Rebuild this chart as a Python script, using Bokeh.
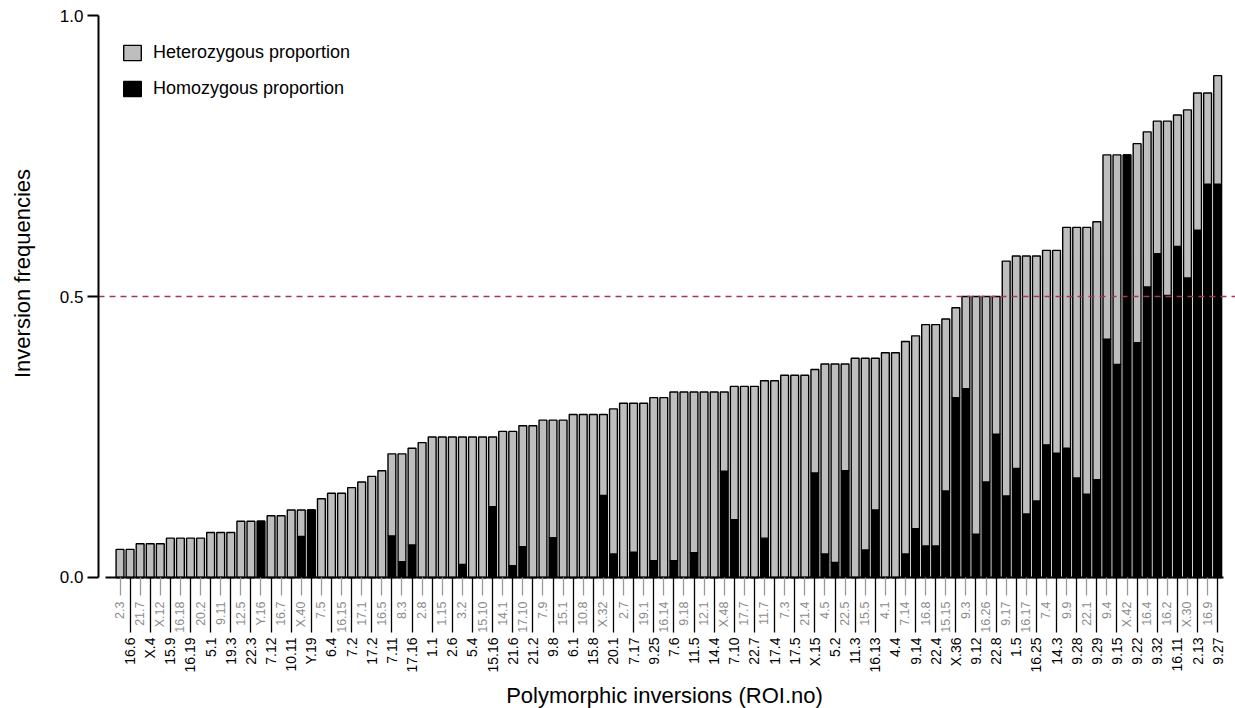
import math

from bokeh.embed import file_html
from bokeh.models import (ColumnDataSource, FixedTicker, Label, Legend,
                          LegendItem, LinearAxis, NumeralTickFormatter, Range1d)
from bokeh.plotting import figure
from bokeh.resources import INLINE

# Polymorphic inversions, ordered by total inversion frequency
inversions = [
    "2.3", "16.6", "21.7", "X.4", "X.12", "15.9", "16.18", "16.19", "20.2", "5.1",
    "9.11", "19.3", "12.5", "22.3", "Y.16", "7.12", "16.7", "10.11", "X.40", "Y.19",
    "7.5", "6.4", "16.15", "7.2", "17.1", "17.2", "16.5", "7.11", "8.3", "17.16",
    "2.8", "1.1", "1.15", "2.6", "3.2", "5.4", "15.10", "15.16", "14.1", "21.6",
    "17.10", "21.2", "7.9", "9.8", "15.1", "6.1", "10.8", "15.8", "X.32", "20.1",
    "2.7", "7.17", "19.1", "9.25", "16.14", "7.6", "9.18", "11.5", "12.1", "14.4",
    "X.48", "7.10", "17.7", "22.7", "11.7", "17.4", "7.3", "17.5", "21.4", "X.15",
    "4.5", "5.2", "22.5", "11.3", "15.5", "16.13", "4.1", "4.4", "7.14", "9.14",
    "16.8", "22.4", "15.15", "X.36", "9.3", "9.12", "16.26", "22.8", "9.17", "1.5",
    "16.17", "16.25", "7.4", "14.3", "9.9", "9.28", "22.1", "9.29", "9.4", "9.15",
    "X.42", "9.22", "16.4", "9.32", "16.2", "16.11", "X.30", "2.13", "16.9", "9.27",
]

# Total inversion frequency per inversion
total_freq = [
    0.05, 0.05, 0.06, 0.06, 0.06, 0.07, 0.07, 0.07, 0.07, 0.08,
    0.08, 0.08, 0.10, 0.10, 0.10, 0.11, 0.11, 0.12, 0.12, 0.12,
    0.14, 0.15, 0.15, 0.16, 0.17, 0.18, 0.19, 0.22, 0.22, 0.23,
    0.24, 0.25, 0.25, 0.25, 0.25, 0.25, 0.25, 0.25, 0.26, 0.26,
    0.27, 0.27, 0.28, 0.28, 0.28, 0.29, 0.29, 0.29, 0.29, 0.30,
    0.31, 0.31, 0.31, 0.32, 0.32, 0.33, 0.33, 0.33, 0.33, 0.33,
    0.33, 0.34, 0.34, 0.34, 0.35, 0.35, 0.36, 0.36, 0.36, 0.37,
    0.38, 0.38, 0.38, 0.39, 0.39, 0.39, 0.40, 0.40, 0.42, 0.43,
    0.45, 0.45, 0.46, 0.48, 0.50, 0.50, 0.50, 0.50, 0.563, 0.572,
    0.572, 0.572, 0.582, 0.582, 0.623, 0.623, 0.623, 0.633, 0.752, 0.752,
    0.752, 0.772, 0.793, 0.812, 0.812, 0.823, 0.832, 0.862, 0.862, 0.893,
]

# Homozygous part of each frequency
homo_freq = [
    0.0, 0.0, 0.0, 0.0, 0.0, 0.0, 0.0, 0.0, 0.0, 0.0,
    0.0, 0.0, 0.0, 0.0, 0.10, 0.0, 0.0, 0.0, 0.073, 0.12,
    0.0, 0.0, 0.0, 0.0, 0.0, 0.0, 0.0, 0.074, 0.028, 0.058,
    0.0, 0.0, 0.0, 0.0, 0.023, 0.0, 0.0, 0.126, 0.0, 0.021,
    0.055, 0.0, 0.0, 0.071, 0.0, 0.0, 0.0, 0.0, 0.146, 0.042,
    0.0, 0.045, 0.0, 0.03, 0.0, 0.03, 0.0, 0.044, 0.0, 0.0,
    0.189, 0.103, 0.0, 0.0, 0.07, 0.0, 0.0, 0.0, 0.0, 0.186,
    0.042, 0.027, 0.19, 0.0, 0.049, 0.12, 0.0, 0.0, 0.042, 0.087,
    0.056, 0.056, 0.154, 0.32, 0.336, 0.077, 0.17, 0.255, 0.145, 0.194,
    0.113, 0.136, 0.236, 0.221, 0.23, 0.177, 0.148, 0.174, 0.424, 0.379,
    0.752, 0.418, 0.517, 0.576, 0.502, 0.589, 0.533, 0.618, 0.70, 0.70,
]

het_freq = [round(t - h, 4) for t, h in zip(total_freq, homo_freq)]
positions = list(range(len(inversions)))
even_pos = positions[0::2]
odd_pos = positions[1::2]

FONT = "Liberation Sans"
Y_AXIS_X = -2.135      # where the y axis stands, in category units
X_END = 110.77         # right edge of the plotting area

source = ColumnDataSource(dict(x=positions, homo=homo_freq, het=het_freq,
                               name=inversions))

# The frame covers the whole page; the axes are pinned inside it so that
# their ticks, labels and titles stay visible.
p = figure(width=1235, height=708,
           x_range=Range1d(-11.867, X_END), y_range=Range1d(-0.2331, 1.0267),
           x_axis_type=None, y_axis_type=None,
           output_backend="svg", toolbar_location=None,
           min_border_left=0, min_border_right=0,
           min_border_top=0, min_border_bottom=0)
p.outline_line_color = None
p.background_fill_color = "white"
p.border_fill_color = "white"

bars = p.vbar_stack(["homo", "het"], x="x", width=0.78, source=source,
                    fill_color=["black", "#bebebe"], line_color="black",
                    line_width=1.4)

# 50 % reference line, from the y axis to the right edge
p.segment(x0=[Y_AXIS_X], y0=[0.5], x1=[X_END], y1=[0.5],
          line_color="#a03a50", line_dash="6 5", line_width=1.6)

# y axis, drawn only over 0..1
yaxis = LinearAxis(ticker=FixedTicker(ticks=[0, 0.5, 1.0]),
                   formatter=NumeralTickFormatter(format="0.0"),
                   fixed_location=Y_AXIS_X, bounds=(0, 1))
yaxis.axis_line_width = 2
yaxis.major_tick_line_width = 2
yaxis.major_tick_out = 11
yaxis.major_tick_in = 0
yaxis.minor_tick_line_color = None
yaxis.major_label_standoff = 4
yaxis.major_label_text_font = FONT
yaxis.major_label_text_font_size = "17px"
yaxis.major_label_text_color = "black"
p.add_layout(yaxis, "left")

# y axis title, set beside the 0..1 part of the axis
p.add_layout(Label(x=-9.7, y=0.541, text="Inversion frequencies",
                   angle=math.pi / 2, text_align="center",
                   text_baseline="middle", text_font=FONT,
                   text_font_size="22px", text_color="black"))

# x axis: black labels on long ticks (odd positions)
black_axis = LinearAxis(ticker=FixedTicker(ticks=odd_pos, minor_ticks=[]),
                        fixed_location=0, bounds=(-1.4, 109.6),
                        major_label_overrides={i: inversions[i] for i in odd_pos})
black_axis.axis_line_width = 2
black_axis.axis_line_color = "black"
black_axis.major_tick_line_color = "black"
black_axis.major_tick_line_width = 1.3
black_axis.major_tick_out = 55
black_axis.major_tick_in = 0
black_axis.minor_tick_line_color = None
black_axis.major_label_orientation = math.pi / 2
black_axis.major_label_standoff = 5
black_axis.major_label_text_font = FONT
black_axis.major_label_text_font_size = "14px"
black_axis.major_label_text_color = "black"
black_axis.axis_label = "Polymorphic inversions (ROI.no)"
black_axis.axis_label_text_font = FONT
black_axis.axis_label_text_font_size = "22px"
black_axis.axis_label_text_font_style = "normal"
black_axis.axis_label_text_color = "black"
black_axis.axis_label_standoff = 7
p.add_layout(black_axis, "below")

# x axis: grey labels on short ticks (even positions)
grey_axis = LinearAxis(ticker=FixedTicker(ticks=even_pos, minor_ticks=[]),
                       fixed_location=0,
                       major_label_overrides={i: inversions[i] for i in even_pos})
grey_axis.axis_line_color = None
grey_axis.major_tick_line_color = "#9a9a9a"
grey_axis.major_tick_line_width = 1.3
grey_axis.major_tick_out = 18
grey_axis.major_tick_in = 0
grey_axis.minor_tick_line_color = None
grey_axis.major_label_orientation = math.pi / 2
grey_axis.major_label_standoff = 6
grey_axis.major_label_text_font = FONT
grey_axis.major_label_text_font_size = "12.5px"
grey_axis.major_label_text_color = "#8c8c8c"
p.add_layout(grey_axis, "below")

legend = Legend(items=[
    LegendItem(label="Heterozygous proportion", renderers=[bars[1]]),
    LegendItem(label="Homozygous proportion", renderers=[bars[0]]),
], location=(121, 609))
legend.background_fill_alpha = 0
legend.border_line_color = None
legend.padding = 0
legend.margin = 0
legend.spacing = 15
legend.glyph_width = 22
legend.glyph_height = 19
legend.label_height = 19
legend.label_standoff = 10
legend.label_text_font = FONT
legend.label_text_font_size = "18px"
legend.label_text_color = "black"
p.add_layout(legend, "center")

open("out.html", "w").write(file_html(p, INLINE))
